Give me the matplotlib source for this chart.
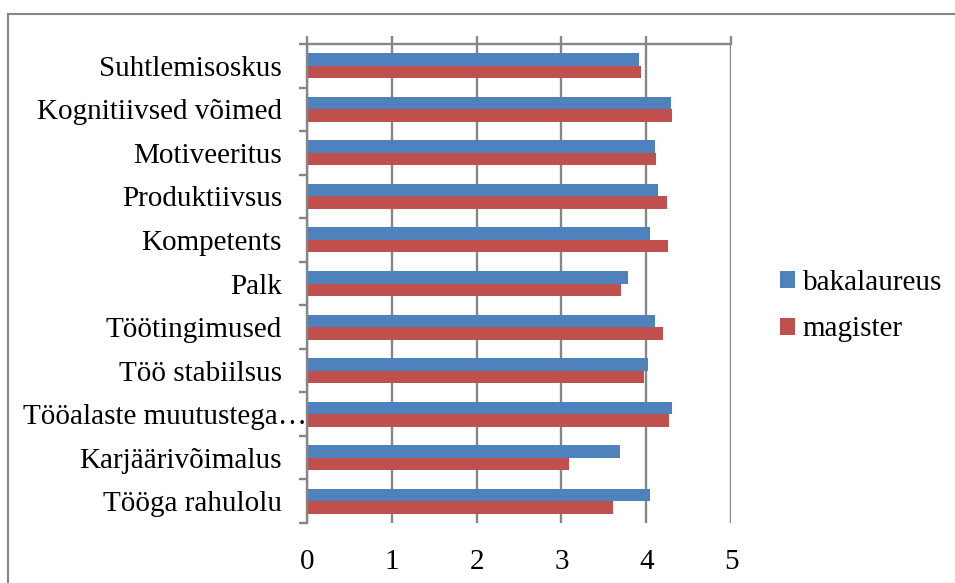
import matplotlib
matplotlib.use("Agg")
import matplotlib.pyplot as plt
import matplotlib.transforms as mtransforms
import numpy as np
from matplotlib.patches import Rectangle

# categories listed bottom to top
categories = ['Tööga rahulolu', 'Karjäärivõimalus', 'Tööalaste muutustega…',
              'Töö stabiilsus', 'Töötingimused', 'Palk', 'Kompetents',
              'Produktiivsus', 'Motiveeritus', 'Kognitiivsed võimed',
              'Suhtlemisoskus']
bakalaureus = [4.05, 3.69, 4.31, 4.02, 4.10, 3.79, 4.05, 4.14, 4.10, 4.29, 3.92]
magister = [3.61, 3.09, 4.27, 3.97, 4.20, 3.70, 4.26, 4.24, 4.12, 4.30, 3.94]
series_names = ['bakalaureus', 'magister']
x_ticks = [0, 1, 2, 3, 4, 5]

blue = '#4F81BD'
red = '#C0504D'
gray = '#868686'
fs = 21

plt.rcParams['font.family'] = ['Liberation Serif', 'DejaVu Serif']

W, H = 955, 583
fig = plt.figure(figsize=(W / 100, H / 100), dpi=100)
# plot area in pixels: x 307-731, y 44-523
ax = fig.add_axes([307 / W, 1 - 523 / H, (731 - 307) / W, (523 - 44) / H])

# outer chart border (runs off the right and bottom of the image)
fig.patches.append(Rectangle((8 / W, -0.05), 1.1, 1 - 14 / H + 0.05,
                             transform=fig.transFigure, fill=False,
                             edgecolor=gray, linewidth=1.5))

y = np.arange(len(categories))
h = 0.287
ax.barh(y + h / 2, bakalaureus, height=h, color=blue, label=series_names[0])
ax.barh(y - h / 2, magister, height=h, color=red, label=series_names[1])

ax.set_xlim(0, 5)
ax.set_ylim(-0.5, len(categories) - 0.5)
ax.set_xticks(x_ticks)
ax.set_xticklabels([str(t) for t in x_ticks])
ax.set_yticks(y)
ax.set_yticklabels(categories)
ax.set_yticks(np.arange(-0.5, len(categories), 1), minor=True)

ax.grid(axis='x', color=gray, linewidth=1.7)
ax.set_axisbelow(True)

for side in ['right', 'bottom']:
    ax.spines[side].set_visible(False)
for side in ['left', 'top']:
    ax.spines[side].set_color(gray)
    ax.spines[side].set_linewidth(1.7)

ax.tick_params(axis='x', top=True, bottom=False, labeltop=False,
               labelbottom=True, direction='out', length=6, width=1.7,
               color=gray, labelsize=fs, pad=13)
ax.tick_params(axis='y', which='major', length=0, labelsize=fs, pad=18)
ax.tick_params(axis='y', which='minor', length=6, width=1.7, color=gray,
               direction='out')

# the long truncated label runs up to the axis line, as in the original
for lbl in ax.get_yticklabels():
    if lbl.get_text().endswith('…'):
        offset = mtransforms.ScaledTranslation(0.25, 0, fig.dpi_scale_trans)
        lbl.set_transform(lbl.get_transform() + offset)

handles, labels = ax.get_legend_handles_labels()
fig.legend(handles, labels, loc='center left', bbox_to_anchor=(780 / W, 1 - 306 / H),
           frameon=False, fontsize=fs, handlelength=0.52, handleheight=0.52,
           handletextpad=0.25, labelspacing=0.72, borderpad=0, borderaxespad=0)

fig.savefig('out.png', dpi=100)
